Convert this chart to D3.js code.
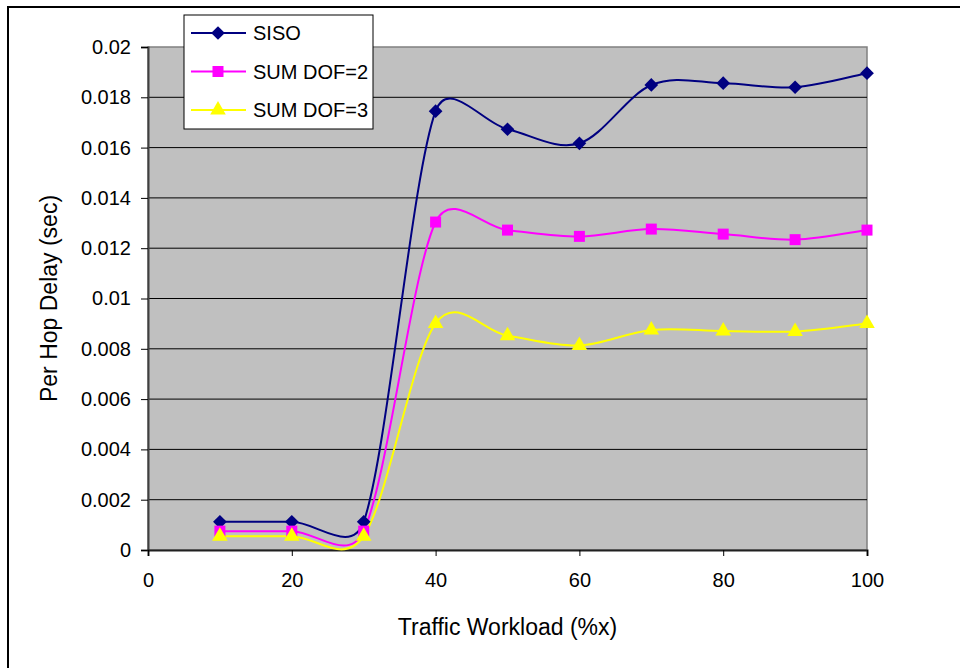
<!DOCTYPE html>
<html lang="en">
<head>
    <meta charset="UTF-8">
    <title>Per Hop Delay</title>
    <script src="https://cdnjs.cloudflare.com/ajax/libs/d3/7.8.5/d3.min.js"></script>
    <style>
        body {
            margin: 0;
            background: #fff;
            font-family: "Liberation Sans", Arial, sans-serif;
        }
        .tick text {
            font-size: 20px;
            fill: #000;
        }
        .grid line {
            stroke: #000;
            stroke-width: 1;
        }
        .legend text {
            font-size: 20px;
            fill: #000;
        }
        .axis-title {
            font-size: 23px;
            fill: #000;
        }
    </style>
</head>
<body>
    <div id="wrapper"></div>
    <script>
        // data
        const workload = [10, 20, 30, 40, 50, 60, 70, 80, 90, 100]
        const siso = [0.00112, 0.00112, 0.00112, 0.01745, 0.01673, 0.01617, 0.01849, 0.01856, 0.0184, 0.01896]
        const sumDof2 = [0.00075, 0.00075, 0.00075, 0.01304, 0.01272, 0.01247, 0.01276, 0.01256, 0.01234, 0.01272]
        const sumDof3 = [0.00055, 0.00055, 0.00055, 0.00901, 0.00852, 0.00813, 0.00875, 0.00871, 0.00869, 0.00901]
        const seriesNames = ['SISO', 'SUM DOF=2', 'SUM DOF=3']
        const xTicks = [0, 20, 40, 60, 80, 100]
        const yTicks = [0, 0.002, 0.004, 0.006, 0.008, 0.01, 0.012, 0.014, 0.016, 0.018, 0.02]

        const series = [
            { name: seriesNames[0], values: siso, color: '#000080', symbol: d3.symbolDiamond2, size: 120 },
            { name: seriesNames[1], values: sumDof2, color: '#ff00ff', symbol: d3.symbolSquare, size: 121 },
            { name: seriesNames[2], values: sumDof3, color: '#ffff00', symbol: d3.symbolTriangle, size: 105 },
        ]

        const dimensions = {
            width: 960,
            height: 668,
            margin: { top: 47, right: 93, bottom: 118, left: 148 }
        }
        dimensions.boundedWidth = dimensions.width - dimensions.margin.left - dimensions.margin.right
        dimensions.boundedHeight = dimensions.height - dimensions.margin.top - dimensions.margin.bottom

        const svg = d3.select('#wrapper')
            .append('svg')
            .attr('width', dimensions.width)
            .attr('height', dimensions.height)

        // outer frame (runs off the right and bottom)
        svg.append('rect')
            .attr('x', 8)
            .attr('y', 7)
            .attr('width', 1000)
            .attr('height', 1000)
            .attr('fill', 'none')
            .attr('stroke', '#000')
            .attr('stroke-width', 2)

        const bounds = svg.append('g')
            .attr('transform', `translate(${dimensions.margin.left},${dimensions.margin.top})`)

        const xScale = d3.scaleLinear()
            .domain([0, 100])
            .range([0, dimensions.boundedWidth])

        const yScale = d3.scaleLinear()
            .domain([0, 0.02])
            .range([dimensions.boundedHeight, 0])

        // plot area
        bounds.append('rect')
            .attr('width', dimensions.boundedWidth)
            .attr('height', dimensions.boundedHeight)
            .attr('fill', '#c0c0c0')
            .attr('stroke', '#808080')
            .attr('stroke-width', 1.5)

        // gridlines
        bounds.append('g')
            .attr('class', 'grid')
            .selectAll('line')
            .data(yTicks.slice(1, -1))
            .join('line')
            .attr('x1', 0)
            .attr('x2', dimensions.boundedWidth)
            .attr('y1', d => yScale(d))
            .attr('y2', d => yScale(d))

        // axes
        const yAxis = bounds.append('g')
            .call(d3.axisLeft(yScale)
                .tickValues(yTicks)
                .tickSize(7)
                .tickPadding(10)
                .tickFormat(d => String(+d.toFixed(3))))
        yAxis.select('.domain').attr('stroke', '#404040').attr('stroke-width', 2)
        yAxis.selectAll('.tick line').attr('stroke', '#000')
        yAxis.selectAll('.tick text').attr('font-family', '"Liberation Sans", Arial, sans-serif')

        const xAxis = bounds.append('g')
            .attr('transform', `translate(0,${dimensions.boundedHeight})`)
            .call(d3.axisBottom(xScale)
                .tickValues(xTicks)
                .tickSize(6)
                .tickPadding(17))
        xAxis.select('.domain').attr('stroke', '#202020').attr('stroke-width', 2)
        xAxis.selectAll('.tick line').attr('stroke', '#000')
        xAxis.selectAll('.tick text').attr('font-family', '"Liberation Sans", Arial, sans-serif')

        // axis titles
        bounds.append('text')
            .attr('class', 'axis-title')
            .attr('x', dimensions.boundedWidth / 2)
            .attr('y', dimensions.boundedHeight + 85)
            .attr('text-anchor', 'middle')
            .text('Traffic Workload (%x)')

        bounds.append('text')
            .attr('class', 'axis-title')
            .attr('transform', `translate(-91,${dimensions.boundedHeight / 2}) rotate(-90)`)
            .attr('text-anchor', 'middle')
            .text('Per Hop Delay (sec)')

        // spreadsheet-like smoothing: catmull-rom bezier, control arms shortened
        // on short segments next to a long one
        function smoothPath(pts) {
            const p = d3.path()
            const dist = (a, b) => Math.hypot(b[0] - a[0], b[1] - a[1])
            const at = i => pts[Math.max(0, Math.min(pts.length - 1, i))]
            const arm = (i, segLen) => {
                const prev = at(i - 1), next = at(i + 1)
                const half = dist(prev, next) / 2
                const s = half > 0 ? Math.min(1, 1.5 * segLen / half) : 1
                return [(next[0] - prev[0]) / 6 * s, (next[1] - prev[1]) / 6 * s]
            }
            p.moveTo(pts[0][0], pts[0][1])
            for (let i = 0; i < pts.length - 1; i++) {
                const a = pts[i], b = pts[i + 1]
                const len = dist(a, b)
                const m1 = arm(i, len)
                const m2 = arm(i + 1, len)
                p.bezierCurveTo(a[0] + m1[0], a[1] + m1[1], b[0] - m2[0], b[1] - m2[1], b[0], b[1])
            }
            return p.toString()
        }

        series.forEach(s => {
            const pts = s.values.map((d, i) => [xScale(workload[i]), yScale(d)])
            bounds.append('path')
                .attr('d', smoothPath(pts))
                .attr('fill', 'none')
                .attr('stroke', s.color)
                .attr('stroke-width', 2)
        })

        series.forEach(s => {
            bounds.append('g')
                .selectAll('path')
                .data(s.values)
                .join('path')
                .attr('transform', (d, i) => `translate(${xScale(workload[i])},${yScale(d)})`)
                .attr('d', d3.symbol(s.symbol, s.size))
                .attr('fill', s.color)
        })

        // legend
        const legend = svg.append('g')
            .attr('class', 'legend')
            .attr('transform', 'translate(184,15)')

        legend.append('rect')
            .attr('width', 189)
            .attr('height', 114)
            .attr('fill', '#fff')
            .attr('stroke', '#000')
            .attr('stroke-width', 1)

        const items = legend.selectAll('.item')
            .data(series)
            .join('g')
            .attr('class', 'item')
            .attr('transform', (d, i) => `translate(0,${18 + i * 38.5})`)

        items.append('line')
            .attr('x1', 7)
            .attr('x2', 62)
            .attr('stroke', d => d.color)
            .attr('stroke-width', 2)

        items.append('path')
            .attr('transform', 'translate(34,0)')
            .attr('d', d => d3.symbol(d.symbol, d.size)())
            .attr('fill', d => d.color)

        items.append('text')
            .attr('x', 69)
            .attr('dy', '0.35em')
            .text(d => d.name)
    </script>
</body>
</html>
